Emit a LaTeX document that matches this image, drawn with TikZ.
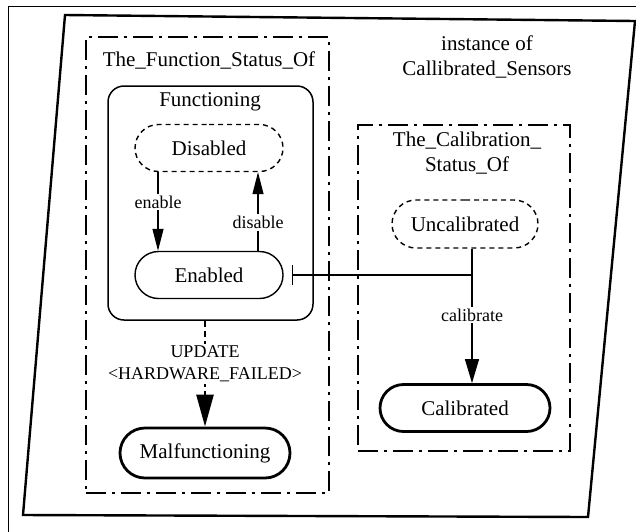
\documentclass[tikz,border=0pt]{standalone}
\usepackage{fontspec}
\setmainfont{Liberation Serif}
\usetikzlibrary{shapes.misc,arrows.meta}
\begin{document}
\begin{tikzpicture}[x=1pt,y=-1pt,
  every node/.style={font=\fontsize{21}{25}\selectfont, inner sep=0pt},
  lbl/.style={font=\fontsize{18}{22}\selectfont, fill=white, inner sep=2pt, align=center},
  stadium/.style={rounded rectangle, draw, minimum width=148pt, minimum height=47pt},
  dotted state/.style={stadium, dash pattern=on 5pt off 4pt, line width=1.4pt},
  plain state/.style={stadium, line width=1.4pt},
  heavy state/.style={stadium, line width=2.8pt},
  component/.style={draw, rectangle, line width=1.5pt, dash pattern=on 20pt off 6pt on 3pt off 6pt},
  arr/.style={line width=1.3pt, -{Triangle[length=22pt,width=11pt]}}
]
\useasboundingbox (0,0) rectangle (636,531);

% sheet frame
\draw[line width=1pt] (8,6) rectangle (660,560);

% object boundary
\draw[line width=2.4pt, line join=miter] (65,15) -- (635,21) -- (588,517) -- (23,515) -- cycle;
\node[align=center] (inst) at (487,57) {instance of\\Callibrated\_Sensors};

% function status component
\node[component, minimum width=243pt, minimum height=456pt] (fstat) at (207.5,265) {};
\node (ftitle) at (209,60) {The\_Function\_Status\_Of};
\node[draw, rectangle, rounded corners=16pt, line width=1.5pt, minimum width=205pt, minimum height=234pt] (func) at (210.5,203) {};
\node (ftxt) at (210,102) {Functioning};
\node[dotted state] (dis) at (209,148) {Disabled};
\node[plain state] (en) at (209,275) {Enabled};
\node[heavy state, minimum width=170pt, minimum height=50pt] (mal) at (205,453) {Malfunctioning};

% calibration status component
\node[component, minimum width=212pt, minimum height=326pt] (cstat) at (464,288) {};
\node[align=center] (ctitle) at (467,153) {The\_Calibration\_\\Status\_Of};
\node[dotted state, minimum width=146pt, minimum height=48pt] (unc) at (465,224) {Uncalibrated};
\node[heavy state, minimum width=170pt, minimum height=47pt] (cal) at (465,408) {Calibrated};

% transitions
\draw[arr] ([xshift=-51pt]dis.south) -- ([xshift=-51pt]en.north) node[lbl, pos=0.38] {enable};
\draw[arr] ([xshift=49pt]en.north) -- ([xshift=49pt]dis.south) node[lbl, pos=0.36] {disable};
\draw[line width=2.6pt, dash pattern=on 6pt off 4pt, -{Triangle[length=32pt,width=17pt]}] (func.south -| mal.north) -- (mal.north)
  node[lbl, pos=0.41, font=\fontsize{18}{22}\selectfont] {UPDATE\\<HARDWARE\_FAILED>};

\coordinate (j) at (472,275);
\draw[line width=1.3pt] (unc.south -| j) -- (j);
\draw[line width=1.3pt, -{Bar[width=20pt, line width=1.5pt]}] (j) -- ([xshift=8pt]en.east);
\draw[line width=1.3pt, -{Triangle[length=24pt,width=14pt]}] (j) -- (cal.north -| j) node[lbl, pos=0.37] {calibrate};
\end{tikzpicture}
\end{document}
